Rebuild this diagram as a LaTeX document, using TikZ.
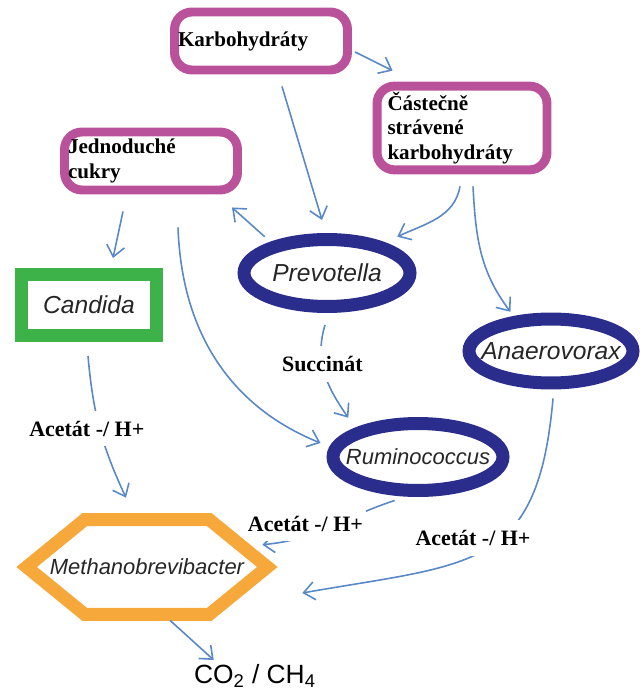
\documentclass[tikz,border=0pt]{standalone}
\usepackage{fontspec}
\setmainfont{Liberation Serif}
\setsansfont{Liberation Sans}
\usetikzlibrary{arrows.meta,shapes.geometric}
\definecolor{sugarmagenta}{RGB}{185,82,155}
\definecolor{fungigreen}{RGB}{60,178,72}
\definecolor{bactnavy}{RGB}{43,45,140}
\definecolor{methorange}{RGB}{246,168,58}
\definecolor{flowblue}{RGB}{88,136,200}
\newcommand{\taxon}[1]{\makebox[0pt]{#1}}

\begin{document}
\begin{tikzpicture}[
  x=0.02cm,y=-0.02cm,
  sugar/.style={draw=sugarmagenta, line width=5.1pt, rounded corners=3.5mm, align=left, minimum height=11.6mm, inner xsep=0.7mm, text width=33.2mm, font=\bfseries\fontsize{12}{14}\selectfont},
  microbe/.style={draw=bactnavy, line width=7.4pt, ellipse, inner sep=0pt, text=black!85, font=\sffamily\itshape\fontsize{14}{16}\selectfont},
  fungus/.style={draw=fungigreen, line width=7.4pt, minimum width=27mm, minimum height=12.2mm, text=black!85, font=\sffamily\itshape\fontsize{14}{16}\selectfont},
  hexa/.style={draw=methorange, line width=7.4pt},
  lbl/.style={fill=white, inner xsep=0.6mm, inner ysep=2mm, font=\bfseries\fontsize{12.5}{14}\selectfont},
  flow/.style={draw=flowblue, line width=0.9pt, -{Straight Barb[length=2.2mm,width=3.6mm]}}
]
\useasboundingbox (0,0) rectangle (644,695);
\node[sugar, minimum width=34.6mm] (karb) at (261,41) {Karbohydráty};
\node[sugar, minimum width=34mm, minimum height=14.8mm, inner xsep=2.1mm, text width=29.8mm] (cast) at (462,128) {Částečně\\strávené\\karbohydráty};
\node[sugar, minimum width=34.6mm] (jedn) at (151,161) {Jednoduché\\cukry};
\node[fungus] (cand) at (89,305) {Candida};
\node[microbe, minimum width=33.2mm, minimum height=13.4mm] (prev) at (327,273) {\taxon{Prevotella}};
\node[microbe, minimum width=32.8mm, minimum height=12.8mm] (anae) at (551,351) {\taxon{Anaerovorax}};
\node[microbe, minimum width=34mm, minimum height=13.4mm, font=\sffamily\itshape\fontsize{12.5}{15}\selectfont] (rumi) at (418,457) {\taxon{Ruminococcus}};
\node[minimum width=48mm, minimum height=18.8mm, inner sep=0pt, text=black!85, font=\sffamily\itshape\fontsize{12.5}{15}\selectfont] (meth) at (147,567) {Methanobrevibacter};
\draw[hexa] (meth.west) -- ([xshift=11.6mm]meth.north west) -- ([xshift=-11.6mm]meth.north east) -- (meth.east) -- ([xshift=-11.6mm]meth.south east) -- ([xshift=11.6mm]meth.south west) -- cycle;
\node[inner sep=0pt, font=\sffamily\fontsize{15}{17}\selectfont] (co2) at (255,676) {CO\textsubscript{2} / CH\textsubscript{4}};

\draw[flow] ([shift={(3,11)}]karb.east) -- ([shift={(20,-11)}]cast.north west);
\draw[flow] ([shift={(21,12)}]karb.south) -- ([shift={(-5,-13)}]prev.north);
\draw[flow] ([shift={(-2,12)}]cast.south) to[out=-100,in=25] ([shift={(7,-8)}]prev.north east);
\draw[flow] ([shift={(11,12)}]cast.south) to[out=-87,in=127] ([shift={(22,-12)}]anae.north west);
\draw[flow] ([shift={(1,-8)}]prev.north west) -- ([shift={(-10,13)}]jedn.south east);
\draw[flow] ([shift={(-28,17)}]jedn.south) -- ([shift={(24,-10)}]cand.north);
\draw[flow] ([shift={(27,33)}]jedn.south) to[out=-88,in=158] ([shift={(-6,-14)}]rumi.west);
\draw[flow] ([shift={(-2,12)}]prev.south) to[out=-107,in=125] node[lbl,pos=0.4] (succ) {Succinát} ([shift={(-5,-11)}]rumi.north west);
\draw[flow] ([shift={(-1,14)}]cand.south) to[out=-85,in=115] node[lbl,pos=0.5,xshift=-2.6mm] (acetc) {Acetát -/ H+} ([shift={(-21,-22)}]meth.north);
\draw[flow] ([shift={(-9,4)}]rumi.250) to[out=198,in=5] node[lbl,pos=0.55,xshift=-3.6mm,yshift=1.2mm] (acetr) {Acetát -/ H+} ([shift={(-5,25)}]meth.north east);
\draw[flow] ([shift={(2,9)}]anae.south) to[out=-95,in=10,looseness=1.4] node[lbl,pos=0.5,xshift=-2.6mm,yshift=2.2mm] (aceta) {Acetát -/ H+} ([shift={(35,26)}]meth.east);
\draw[flow] ([shift={(23,6)}]meth.south) -- ([shift={(20,-4)}]co2.north west);
\end{tikzpicture}
\end{document}
